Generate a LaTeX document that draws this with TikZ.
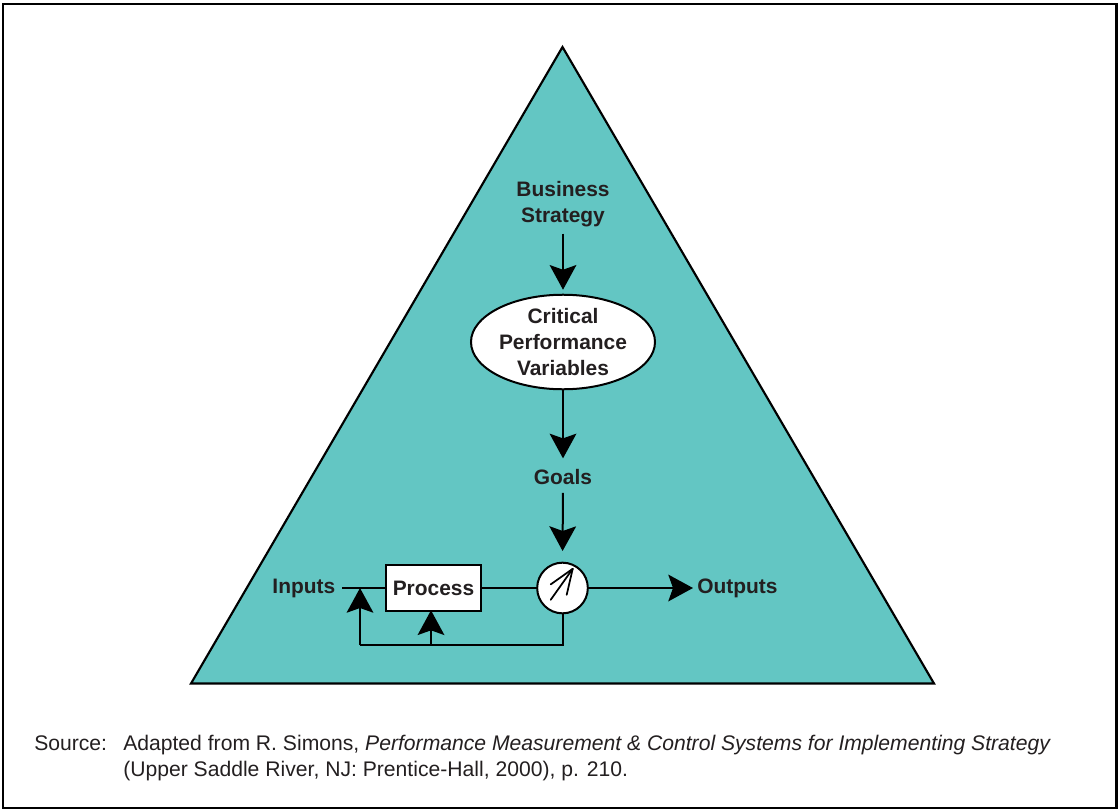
\documentclass[tikz,border=0pt]{standalone}
\usepackage{fontspec}
\setmainfont{Liberation Sans}
\usetikzlibrary{arrows.meta,calc,shapes.geometric}
\definecolor{teal}{HTML}{63C6C3}
\definecolor{ink}{HTML}{231F20}
\begin{document}
\begin{tikzpicture}[x=0.75pt,y=-0.75pt,
  lbl/.style={font=\fontsize{15.7}{19.3}\selectfont\bfseries,text=ink,align=center,inner sep=0pt},
  wire/.style={line width=1.5pt,draw=black},
  arr/.style={wire,-{Stealth[length=18.5pt,width=20pt,inset=3.5pt]}},
  note/.style={font=\fontsize{15.85}{19}\selectfont,text=ink,inner sep=0pt}]
  \useasboundingbox (0,0) rectangle (1118,810);
  % outer frame
  \draw[line width=1.6pt] (3,4) rectangle (1116.5,808);
  % triangle backdrop
  \filldraw[fill=teal,draw=black,line width=1.6pt,line join=miter]
    (562.5,47) -- (934,683.5) -- (191,683.5) -- cycle;

  % labels and shapes
  \node[lbl] (bs) at (563,204) {Business\\Strategy};
  \node[lbl,ellipse,draw=black,line width=1.5pt,fill=white,
        minimum width=138pt,minimum height=70pt] (cpv) at (563,342)
        {Critical\\Performance\\Variables};
  \node[lbl] (goals) at (563,477) {Goals};
  \node[circle,draw=black,line width=1.5pt,fill=white,minimum size=38pt,inner sep=0pt]
        (g) at (562.5,588) {};
  \node[lbl,draw=black,line width=1.5pt,fill=white,minimum width=71pt,minimum height=34pt]
        (proc) at (433.5,588) {Process};
  \node[lbl,anchor=east] (in) at (335.5,588) {Inputs};
  \node[lbl,anchor=west] (out) at (697,588) {Outputs};

  % gauge needle
  \coordinate (tipg) at ($(g.center)+(10.2,-19.2)$);
  \draw[line width=1.3pt,line cap=round] ($(g.center)+(-11.8,-3.6)$) -- (tipg);
  \draw[line width=1.3pt,line cap=round] ($(g.center)+(-11.8,11.8)$) -- (tipg);
  \draw[line width=1.3pt,line cap=round] ($(g.center)+(4.2,6.8)$) -- (tipg);

  % feedback path
  \coordinate (fb) at (562.5,645);
  \coordinate (fl) at (360,645);
  \coordinate (fm) at (431,645);
  \coordinate (jin) at (360,588);

  % main flow
  \draw[arr,shorten <=5pt,shorten >=3pt] (bs.south) -- (cpv.north);
  \draw[arr,shorten >=8pt] (cpv.south) -- (goals.north);
  \draw[arr,shorten <=6pt,shorten >=8pt] (goals.south) -- (g.north);
  \draw[wire,shorten <=5pt] (in.east |- proc.west) -- (proc.west);
  \draw[wire] (proc.east) -- (g.west);
  \draw[arr,shorten >=3pt] (g.east) -- (out.west |- g.east);

  % feedback loop
  \draw[wire] (g.south) -- (fb) -- (fl);
  \draw[arr] (fl) -- (jin);
  \draw[arr,shorten >=-1pt] (fm) -- (fm |- proc.south);

  % source note
  \node[note,anchor=base west] (src) at (34,750) {Source:};
  \node[note,anchor=base west] (ref1) at (123,750)
    {Adapted from R. Simons, \textit{Performance Measurement \& Control Systems for Implementing Strategy}};
  \node[note,anchor=base west] (ref2) at (123,776)
    {(Upper Saddle River, NJ: Prentice-Hall, 2000), p. 210.};
\end{tikzpicture}
\end{document}
